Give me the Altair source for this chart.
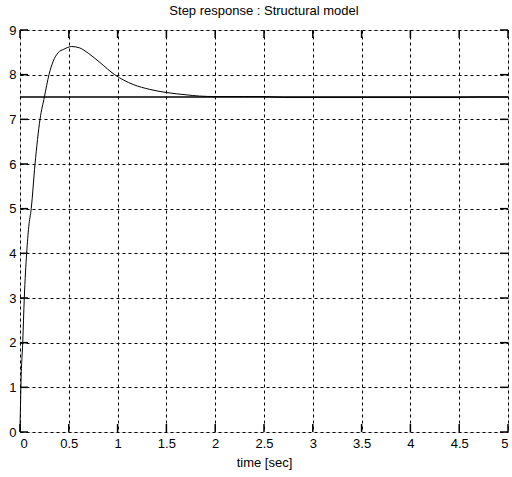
import altair as alt
import pandas as pd

t_vals = [0, 0.005, 0.01, 0.028, 0.044, 0.068, 0.09, 0.115, 0.154, 0.205, 0.25, 0.297,
          0.34, 0.39, 0.45, 0.53, 0.61, 0.7, 0.82, 0.97, 1.16, 1.33, 1.5, 1.7, 1.84,
          2.0, 2.3, 2.5, 2.7, 3.0, 3.5, 4.0, 4.5, 4.7, 5.0]
y_vals = [0, 0.6, 1.1, 2.0, 3.0, 4.0, 4.6, 5.0, 6.0, 7.0, 7.5, 8.0,
          8.3, 8.49, 8.57, 8.63, 8.6, 8.48, 8.27, 8.0, 7.78, 7.67, 7.6, 7.55, 7.52,
          7.51, 7.51, 7.51, 7.49, 7.49, 7.49, 7.49, 7.49, 7.5, 7.5]
ref_level = [7.5]
x_ticks = [0, 0.5, 1, 1.5, 2, 2.5, 3, 3.5, 4, 4.5, 5]
y_ticks = [0, 1, 2, 3, 4, 5, 6, 7, 8, 9]

df = pd.DataFrame({"t": t_vals, "y": y_vals})
ref = pd.DataFrame({"y": ref_level})
xt = pd.DataFrame({"t": x_ticks})
yt = pd.DataFrame({"y": y_ticks})

FONT = "Liberation Sans"
W, H = 488, 402

xscale = alt.Scale(domain=[0, 5], nice=False, zero=False)
yscale = alt.Scale(domain=[0, 9], nice=False, zero=False)

common = dict(grid=True, gridColor="black", gridDash=[3, 3], gridOpacity=1, gridWidth=1,
              ticks=False, domain=False, labelFont=FONT, labelFontSize=13,
              labelColor="black", titleFont=FONT, titleFontSize=13,
              titleFontWeight="normal", titleColor="black")

line = alt.Chart(df).mark_line(color="black", strokeWidth=1, interpolate="monotone").encode(
    x=alt.X("t:Q", scale=xscale, title="time [sec]",
            axis=alt.Axis(values=x_ticks, format="~g", labelPadding=5, titlePadding=6,
                          **common)),
    y=alt.Y("y:Q", scale=yscale, title=None,
            axis=alt.Axis(values=y_ticks, labelPadding=4, **common)),
)

rule = alt.Chart(ref).mark_rule(color="black", strokeWidth=1.5).encode(
    y=alt.Y("y:Q", scale=yscale)
)

tick_style = dict(color="black", thickness=1.5, size=8, opacity=1)
xticks_bot = alt.Chart(xt).mark_tick(**tick_style).encode(
    x=alt.X("t:Q", scale=xscale), y=alt.value(H - 4))
xticks_top = alt.Chart(xt).mark_tick(**tick_style).encode(
    x=alt.X("t:Q", scale=xscale), y=alt.value(4))
yticks_l = alt.Chart(yt).mark_tick(**tick_style).encode(
    y=alt.Y("y:Q", scale=yscale), x=alt.value(4))
yticks_r = alt.Chart(yt).mark_tick(**tick_style).encode(
    y=alt.Y("y:Q", scale=yscale), x=alt.value(W - 4))

chart = alt.layer(rule, line, xticks_bot, xticks_top, yticks_l, yticks_r).properties(
    width=W, height=H,
    autosize="none",
    padding={"left": 20, "top": 30, "right": 4, "bottom": 45},
    title=alt.TitleParams("Step response : Structural model", fontSize=13,
                          font=FONT, fontWeight="normal", color="black", offset=6),
).configure_view(
    stroke="black", strokeWidth=1.5
).configure(background="white")

chart.save("out.html", embed_options={"renderer": "svg", "actions": False})
